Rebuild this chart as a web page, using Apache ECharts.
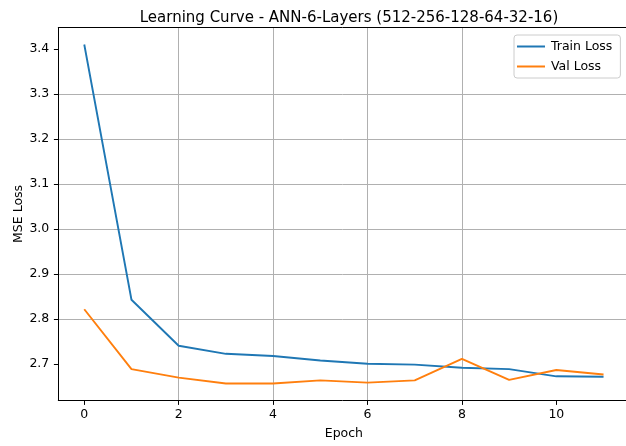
<!DOCTYPE html>
<html>
<head>
<meta charset="utf-8">
<script src="https://cdn.jsdelivr.net/npm/echarts@6/dist/echarts.min.js"></script>
<style>html,body{margin:0;padding:0;background:#fff;}#c{width:626px;height:446px;}</style>
</head>
<body>
<div id="c"></div>
<script>
const epochs = [0,1,2,3,4,5,6,7,8,9,10,11];
const trainLoss = [3.410,2.843,2.741,2.723,2.718,2.708,2.701,2.699,2.692,2.689,2.673,2.672];
const valLoss   = [2.822,2.689,2.670,2.657,2.657,2.664,2.659,2.664,2.712,2.665,2.687,2.677];
const xTicks = [0,2,4,6,8,10];
const yTicks = [2.7,2.8,2.9,3.0,3.1,3.2,3.3,3.4];
const titleText = 'Learning Curve - ANN-6-Layers (512-256-128-64-32-16)';

const xMin = -0.55, xMax = 11.55;
const yMin = 2.6193, yMax = 3.448;
const FONT = 'DejaVu Sans';
const FS = 12.5;

const chart = echarts.init(document.getElementById('c'), null, {renderer:'canvas'});
const pair = a => epochs.map((e,i)=>[e,a[i]]);
chart.setOption({
  animation:false,
  backgroundColor:'#fff',
  textStyle:{fontFamily:FONT},
  title:{text:titleText,left:344,textAlign:'center',top:6,
    textStyle:{fontFamily:FONT,fontSize:15,fontWeight:'normal',color:'#000'}},
  legend:{left:514,top:35,orient:'vertical',icon:'rect',itemWidth:28,itemHeight:2,itemGap:7,
    padding:[5,8,5,3],backgroundColor:'rgba(255,255,255,0.8)',borderColor:'#cccccc',borderWidth:1,borderRadius:3,
    textStyle:{fontFamily:FONT,fontSize:FS,color:'#000',padding:[0,0,0,1]},
    data:['Train Loss','Val Loss']},
  grid:{left:58.3,right:-3.5,top:27.4,bottom:45.5,containLabel:false,outerBoundsMode:'none'},
  xAxis:[{type:'value',min:xMin,max:xMax,minInterval:2,maxInterval:2,
    name:'Epoch',nameLocation:'middle',nameGap:27,nameMoveOverlap:false,
    nameTextStyle:{fontFamily:FONT,fontSize:FS,color:'#000'},
    axisLine:{show:true,lineStyle:{color:'#000',width:1}},
    axisTick:{show:true,length:4.4,lineStyle:{color:'#000',width:1},customValues:xTicks},
    axisLabel:{fontFamily:FONT,fontSize:FS,color:'#000',margin:8,customValues:xTicks,
      formatter:v=>String(Math.round(v))},
    splitLine:{show:true,showMinLine:false,showMaxLine:false,lineStyle:{color:'#b0b0b0',width:1}}},
   {type:'value',position:'top',min:xMin,max:xMax,
    axisLine:{show:true,onZero:false,lineStyle:{color:'#000',width:1}},
    axisTick:{show:false},axisLabel:{show:false},splitLine:{show:false}}],
  yAxis:[{type:'value',min:yMin,max:yMax,minInterval:0.1,maxInterval:0.1,
    name:'MSE Loss',nameLocation:'middle',nameGap:33.5,nameRotate:90,nameMoveOverlap:false,
    nameTextStyle:{fontFamily:FONT,fontSize:FS,color:'#000'},
    axisLine:{show:true,onZero:false,lineStyle:{color:'#000',width:1}},
    axisTick:{show:true,length:4.4,lineStyle:{color:'#000',width:1},customValues:yTicks},
    axisLabel:{fontFamily:FONT,fontSize:FS,color:'#000',margin:9,customValues:yTicks,
      formatter:v=>v.toFixed(1)},
    splitLine:{show:true,showMinLine:false,showMaxLine:false,lineStyle:{color:'#b0b0b0',width:1}}},
   {type:'value',position:'right',min:yMin,max:yMax,
    axisLine:{show:true,onZero:false,lineStyle:{color:'#000',width:1}},
    axisTick:{show:false},axisLabel:{show:false},splitLine:{show:false}}],
  series:[
    {name:'Train Loss',type:'line',data:pair(trainLoss),showSymbol:false,symbol:'none',
      lineStyle:{color:'#1f77b4',width:1.9},itemStyle:{color:'#1f77b4'}},
    {name:'Val Loss',type:'line',data:pair(valLoss),showSymbol:false,symbol:'none',
      lineStyle:{color:'#ff7f0e',width:1.9},itemStyle:{color:'#ff7f0e'}}
  ]
});
</script>
</body>
</html>
